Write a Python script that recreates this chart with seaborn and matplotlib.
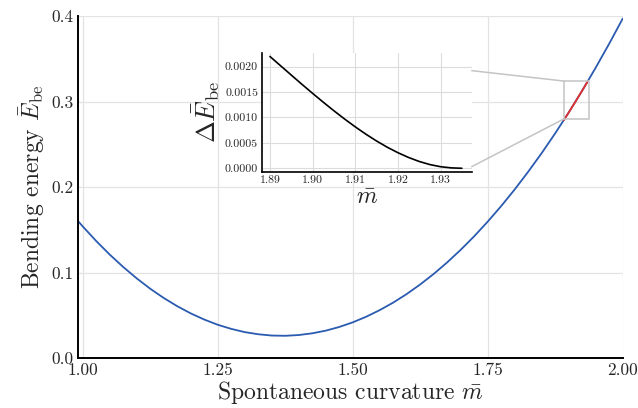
import numpy as np
import pandas as pd
import matplotlib
matplotlib.use("Agg")
import matplotlib.pyplot as plt
from matplotlib.patches import Rectangle, ConnectionPatch
from matplotlib.ticker import FormatStrFormatter
import seaborn as sns

# bending energy curve
m_vals = [0.9907, 1.000, 1.025, 1.050, 1.075, 1.100, 1.125, 1.150, 1.175, 1.200, 1.225,
          1.250, 1.275, 1.300, 1.325, 1.350, 1.375, 1.400, 1.425, 1.450, 1.475, 1.500,
          1.525, 1.550, 1.575, 1.600, 1.625, 1.650, 1.675, 1.700, 1.725, 1.750, 1.775,
          1.800, 1.825, 1.850, 1.875, 1.900, 1.925, 1.950, 1.975, 2.000]
e_vals = [0.1608, 0.1541, 0.1370, 0.1212, 0.1067, 0.0934, 0.0813, 0.0705, 0.0609, 0.0525, 0.0453,
          0.0392, 0.0344, 0.0306, 0.0281, 0.0266, 0.0263, 0.0272, 0.0292, 0.0323, 0.0366, 0.0420,
          0.0486, 0.0563, 0.0651, 0.0751, 0.0863, 0.0986, 0.1121, 0.1268, 0.1426, 0.1597, 0.1779,
          0.1973, 0.2180, 0.2398, 0.2629, 0.2872, 0.3128, 0.3396, 0.3676, 0.3969]

# highlighted part (red)
m_red = [1.891, 1.900, 1.9125, 1.925, 1.935]
e_red = [0.2783, 0.2872, 0.2998, 0.3128, 0.3233]

# inset: energy difference
m_inset = [1.89, 1.8925, 1.895, 1.8975, 1.90, 1.9025, 1.905, 1.9075, 1.91, 1.9125,
           1.915, 1.9175, 1.92, 1.9225, 1.925, 1.9275, 1.93, 1.9325, 1.935]
de_inset = [0.002201, 0.002018, 0.001835, 0.001653, 0.001475, 0.001301, 0.001132, 0.000970,
            0.000816, 0.000671, 0.000537, 0.000415, 0.000307, 0.000213, 0.000134, 0.000073,
            0.000031, 0.000008, 0.0]

main_df = pd.DataFrame({"m": m_vals, "E": e_vals})
red_df = pd.DataFrame({"m": m_red, "E": e_red})
inset_df = pd.DataFrame({"m": m_inset, "dE": de_inset})

sns.set_style("white")
plt.rcParams["font.family"] = "serif"
plt.rcParams["font.serif"] = ["cmr10", "DejaVu Serif"]
plt.rcParams["mathtext.fontset"] = "cm"
plt.rcParams["axes.formatter.use_mathtext"] = True

fig = plt.figure(figsize=(6.38, 4.08), dpi=100)
ax = fig.add_axes([0.1218, 0.1218, 0.976 - 0.1218, 0.9608 - 0.1218])

sns.lineplot(data=main_df, x="m", y="E", ax=ax, color="#2b5bb0", linewidth=1.3)
sns.lineplot(data=red_df, x="m", y="E", ax=ax, color="#e3302e", linewidth=1.3)

ax.set_xlim(0.9907, 2.0)
ax.set_ylim(0.0, 0.4)
ax.set_xticks([1.00, 1.25, 1.50, 1.75, 2.00])
ax.set_yticks([0.0, 0.1, 0.2, 0.3, 0.4])
ax.xaxis.set_major_formatter(FormatStrFormatter("%.2f"))
ax.yaxis.set_major_formatter(FormatStrFormatter("%.1f"))
ax.grid(True, color="#e3e3e3", linewidth=0.9)
for s in ["top", "right"]:
    ax.spines[s].set_visible(False)
for s in ["left", "bottom"]:
    ax.spines[s].set_color("black")
    ax.spines[s].set_linewidth(1.4)
ax.tick_params(length=0, labelsize=12.5, pad=3)
ax.set_xlabel(r"Spontaneous curvature $\bar{m}$", fontsize=17, labelpad=1)
ax.set_ylabel(r"Bending energy $\bar{E}_{\rm be}$", fontsize=17, labelpad=3)

# zoom box
rect = Rectangle((1.8907, 0.2796), 1.937 - 1.8907, 0.324 - 0.2796,
                 fill=False, edgecolor="#c4c4c4", linewidth=1.1, zorder=3)
ax.add_patch(rect)

# inset
axins = fig.add_axes([0.4111, 0.5792, 0.3282, 0.2917])
sns.lineplot(data=inset_df, x="m", y="dE", ax=axins, color="black", linewidth=1.2)
axins.set_xlim(1.8882, 1.9373)
axins.set_ylim(-0.000067, 0.002276)
axins.set_xticks([1.89, 1.90, 1.91, 1.92, 1.93])
axins.set_yticks([0.0, 0.0005, 0.0010, 0.0015, 0.0020])
axins.xaxis.set_major_formatter(FormatStrFormatter("%.2f"))
axins.yaxis.set_major_formatter(FormatStrFormatter("%.4f"))
axins.grid(True, color="#dcdcdc", linewidth=0.8)
for s in ["top", "right"]:
    axins.spines[s].set_visible(False)
for s in ["left", "bottom"]:
    axins.spines[s].set_color("black")
    axins.spines[s].set_linewidth(1.2)
axins.tick_params(direction="in", length=3, width=0.6, labelsize=8.5, pad=3)
axins.set_xlabel(r"$\bar{m}$", fontsize=17, labelpad=1)
axins.set_ylabel(r"$\Delta\bar{E}_{\rm be}$", fontsize=19, labelpad=2)

# connector lines from inset to zoom box
for yfrac, ydata in [(0.849, 0.324), (0.042, 0.2796)]:
    con = ConnectionPatch(xyA=(1.0, yfrac), coordsA=axins.transAxes,
                          xyB=(1.8907, ydata), coordsB=ax.transData,
                          color="#c4c4c4", linewidth=1.1)
    fig.add_artist(con)

fig.savefig("out.png", dpi=100)
